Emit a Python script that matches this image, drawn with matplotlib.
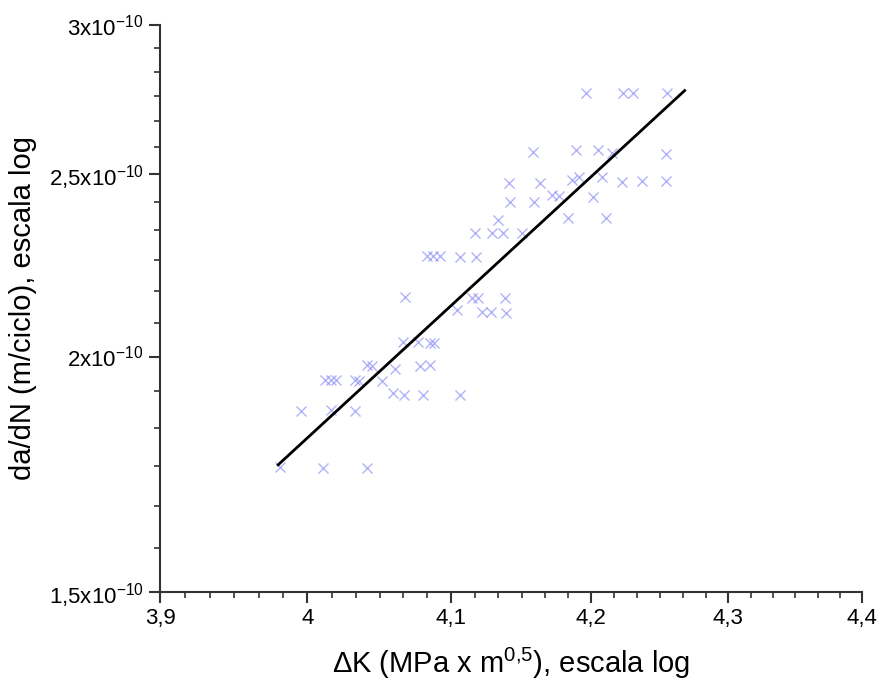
import numpy as np
import matplotlib
matplotlib.use("Agg")
import matplotlib.pyplot as plt
from matplotlib.ticker import FixedLocator, FixedFormatter, NullFormatter

plt.rcParams['font.family'] = ['Liberation Sans', 'DejaVu Sans']
plt.rcParams['mathtext.fontset'] = 'custom'
plt.rcParams['mathtext.rm'] = 'Liberation Sans'
plt.rcParams['mathtext.it'] = 'Liberation Sans:italic'
plt.rcParams['mathtext.default'] = 'regular'

# measured points: delta K (MPa m^0.5) and da/dN (x 1e-10 m/ciclo)
dk = [3.981, 4.011, 4.041,
      3.996, 4.016, 4.033,
      4.059, 4.067, 4.080, 4.106,
      4.012, 4.016, 4.020, 4.033, 4.036, 4.052,
      4.041, 4.045, 4.061, 4.078, 4.085,
      4.066, 4.077, 4.085, 4.088,
      4.068, 4.104, 4.115, 4.119, 4.138, 4.122, 4.128, 4.139,
      4.083, 4.087, 4.092, 4.106, 4.118,
      4.117, 4.129, 4.137, 4.150,
      4.133, 4.183, 4.211,
      4.142, 4.159, 4.172, 4.177, 4.201,
      4.141, 4.163, 4.186, 4.191, 4.208, 4.222, 4.237, 4.254,
      4.158, 4.189, 4.205, 4.215, 4.254,
      4.196, 4.223, 4.230, 4.255]
dadn = [1.748, 1.746, 1.746,
        1.872, 1.874, 1.872,
        1.913, 1.908, 1.908, 1.908,
        1.944, 1.944, 1.944, 1.944, 1.941, 1.941,
        1.980, 1.977, 1.970, 1.977, 1.980,
        2.036, 2.036, 2.034, 2.034,
        2.151, 2.117, 2.149, 2.149, 2.149, 2.112, 2.112, 2.110,
        2.262, 2.262, 2.262, 2.259, 2.259,
        2.327, 2.327, 2.327, 2.327,
        2.364, 2.370, 2.370,
        2.416, 2.416, 2.437, 2.434, 2.431,
        2.473, 2.473, 2.482, 2.491, 2.491, 2.476, 2.479, 2.479,
        2.569, 2.575, 2.575, 2.565, 2.562,
        2.761, 2.761, 2.761, 2.761]

# Paris law fit line
fit_dk = [3.98, 4.268]
fit_m = 6.55
fit_da0 = 1.752e-10

xticks = [3.9, 4.0, 4.1, 4.2, 4.3, 4.4]
xlabels = ['3,9', '4', '4,1', '4,2', '4,3', '4,4']
yticks = [1.5e-10, 2e-10, 2.5e-10, 3e-10]
ylabels = ['1,5x10$^{-10}$', '2x10$^{-10}$', '2,5x10$^{-10}$', '3x10$^{-10}$']

fig = plt.figure(figsize=(8.84, 6.93), dpi=100)
ax = fig.add_axes([0.181, 0.146, 0.794, 0.818])

ax.plot(np.array(dk), np.array(dadn) * 1e-10, linestyle='none', marker='x',
        markersize=6.5, markeredgewidth=1.0, color=(0.45, 0.45, 0.95), alpha=0.55)

xl = np.linspace(fit_dk[0], fit_dk[1], 50)
ax.plot(xl, fit_da0 * (xl / fit_dk[0]) ** fit_m, color='black', linewidth=2.0)

ax.set_xscale('log')
ax.set_yscale('log')
ax.set_xlim(3.9, 4.4)
ax.set_ylim(1.5e-10, 3e-10)

ax.xaxis.set_major_locator(FixedLocator(xticks))
ax.xaxis.set_major_formatter(FixedFormatter(xlabels))
ax.xaxis.set_minor_locator(FixedLocator(np.arange(3.9, 4.4, 0.1 / 6)))
ax.xaxis.set_minor_formatter(NullFormatter())
ax.yaxis.set_major_locator(FixedLocator(yticks))
ax.yaxis.set_major_formatter(FixedFormatter(ylabels))
ax.yaxis.set_minor_locator(FixedLocator(np.arange(1.5e-10, 3e-10, 0.5e-10 / 6)))
ax.yaxis.set_minor_formatter(NullFormatter())

ax.spines['right'].set_visible(False)
ax.spines['top'].set_visible(False)
for s in ['left', 'bottom']:
    ax.spines[s].set_linewidth(1.5)
    ax.spines[s].set_color('#333333')

ax.tick_params(which='major', direction='out', length=8, width=1.5, color='#333333',
               labelsize=16, pad=4)
ax.tick_params(which='minor', direction='out', length=4, width=1.2, color='#333333')

ax.set_xlabel('ΔK (MPa x m$^{0{,}5}$), escala log', fontsize=21, labelpad=12)
ax.set_ylabel('da/dN (m/ciclo), escala log', fontsize=21, labelpad=8)

fig.savefig('out.png', dpi=100)
